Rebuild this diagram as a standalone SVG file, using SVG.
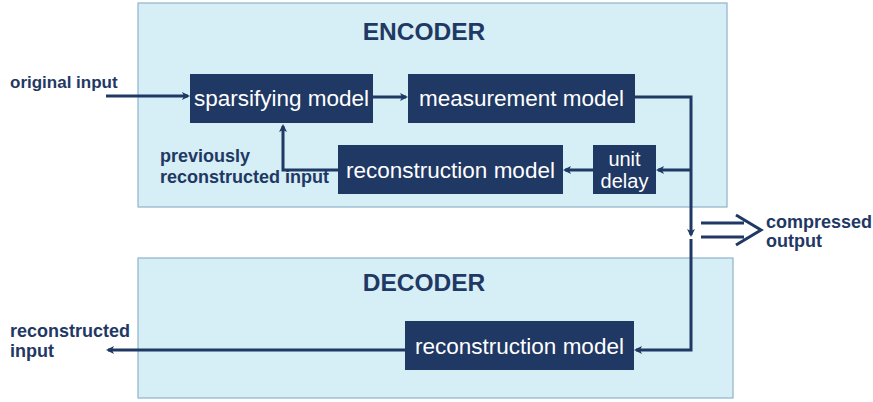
<svg xmlns="http://www.w3.org/2000/svg" width="873" height="402" viewBox="0 0 873 402">
<defs>
<style>
.panel{fill:#d6eef5;stroke:#8fb3c9;stroke-width:1.2}
.box{fill:#1f3864}
.bt{fill:#ffffff;font-family:"Liberation Sans",Arial,sans-serif;font-size:22.5px;text-anchor:middle}
.title{fill:#1f3864;font-family:"Liberation Sans",Arial,sans-serif;font-size:24.5px;font-weight:bold;text-anchor:middle}
.lbl{fill:#1f3864;font-family:"Liberation Sans",Arial,sans-serif;font-size:18px;font-weight:bold}
.ln{fill:none;stroke:#1f3864;stroke-width:3}
</style>
<marker id="ah" markerWidth="8" markerHeight="8" refX="6" refY="4" orient="auto" markerUnits="userSpaceOnUse">
<path d="M0,0 L8,4 L0,8 L2,4 Z" fill="#1f3864"/>
</marker>
</defs>
<rect width="873" height="402" fill="#ffffff"/>
<g id="encoder">
<rect class="panel" x="138" y="3" width="589" height="204"/>
<text class="title" x="424" y="40">ENCODER</text>
</g>
<g id="decoder">
<rect class="panel" x="138" y="258" width="595" height="140"/>
<text class="title" x="424" y="291">DECODER</text>
</g>
<g id="sparsifying">
<rect class="box" x="190" y="74" width="183" height="49"/>
<text class="bt" x="281.5" y="106">sparsifying model</text>
</g>
<g id="measurement">
<rect class="box" x="408" y="74" width="227" height="49"/>
<text class="bt" x="521.5" y="106">measurement model</text>
</g>
<g id="enc-reconstruction">
<rect class="box" x="338" y="145" width="225" height="49"/>
<text class="bt" x="450.5" y="178">reconstruction model</text>
</g>
<g id="unit-delay">
<rect class="box" x="593" y="145" width="63" height="49"/>
<text class="bt" x="624.5" y="166" style="font-size:20px">unit</text>
<text class="bt" x="624.5" y="188" style="font-size:20px">delay</text>
</g>
<g id="dec-reconstruction">
<rect class="box" x="405" y="321" width="229" height="49"/>
<text class="bt" x="519.5" y="354">reconstruction model</text>
</g>
<g id="labels">
<text class="lbl" x="10" y="88" style="font-size:17px">original input</text>
<text class="lbl" x="160" y="162">previously</text>
<text class="lbl" x="160" y="183">reconstructed input</text>
<text class="lbl" x="766" y="228">compressed</text>
<text class="lbl" x="766" y="247">output</text>
<text class="lbl" x="10" y="337">reconstructed</text>
<text class="lbl" x="10" y="357">input</text>
</g>
<g id="connectors">
<path class="ln" d="M106,96 H188" marker-end="url(#ah)"/>
<path class="ln" d="M373,97 H406" marker-end="url(#ah)"/>
<path class="ln" d="M635,97 H691 V235" marker-end="url(#ah)"/>
<path class="ln" d="M691,239 V350 H636" marker-end="url(#ah)"/>
<path class="ln" d="M691,170 H658" marker-end="url(#ah)"/>
<path class="ln" d="M593,170 H565" marker-end="url(#ah)"/>
<path class="ln" d="M338,170 H283 V126" marker-end="url(#ah)"/>
<path class="ln" d="M405,350 H108" marker-end="url(#ah)"/>
<path class="ln" d="M701,223 H744 M701,237 H744 M736,215 L761,230 L736,245"/>
</g>
</svg>
